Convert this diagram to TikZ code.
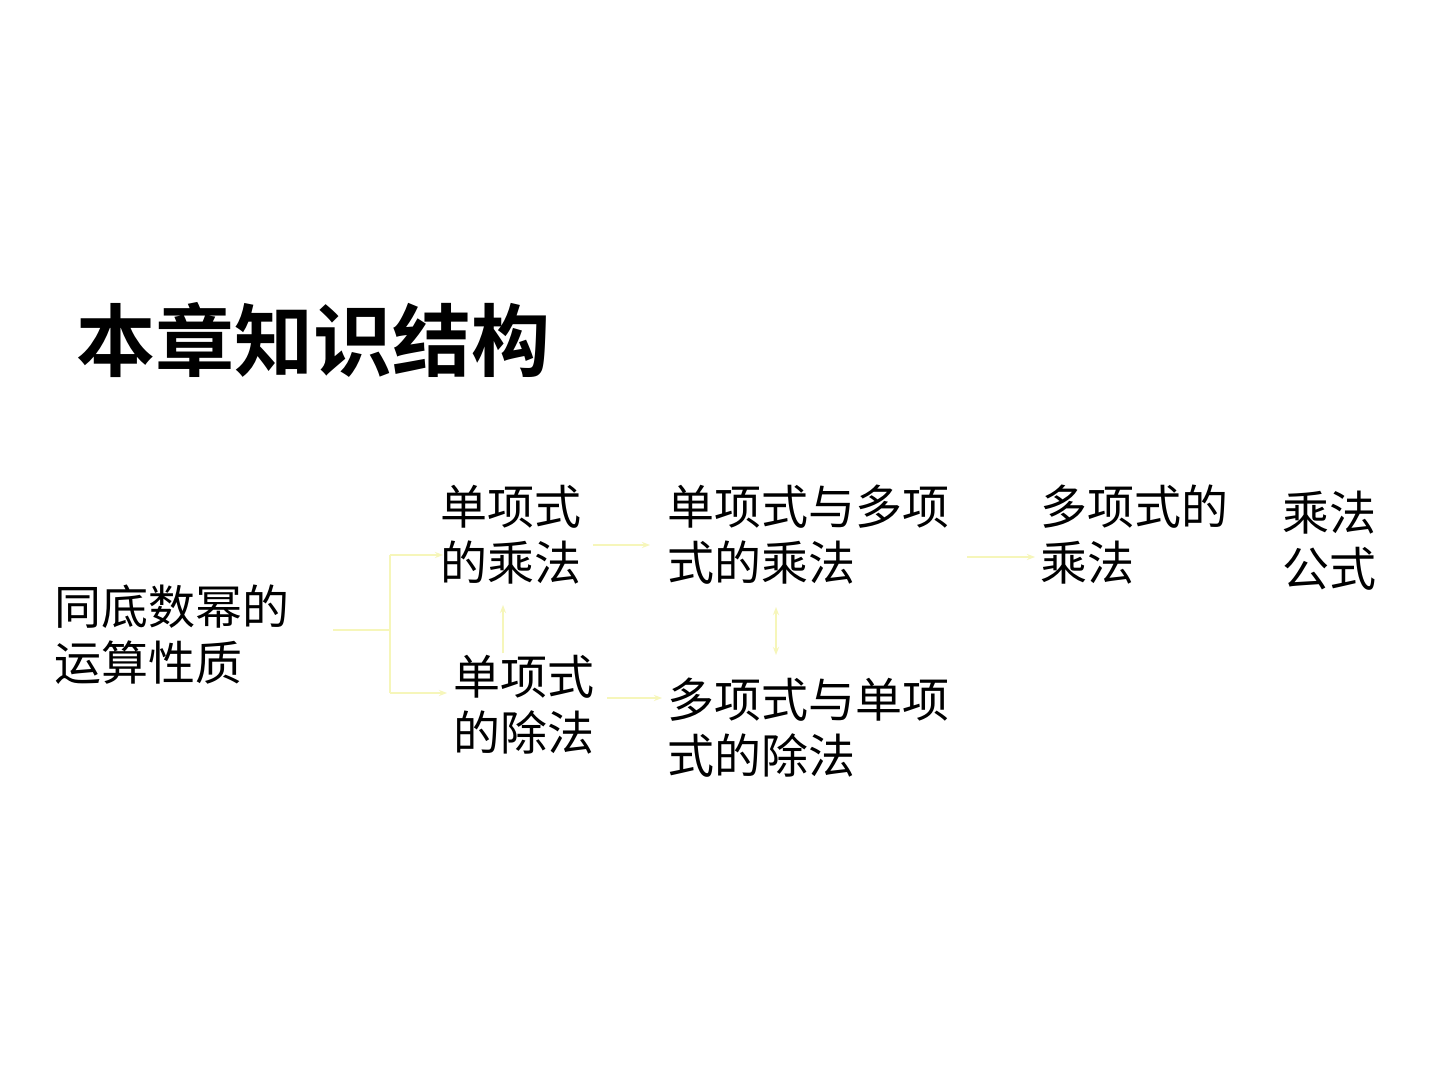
\documentclass[tikz,border=0pt]{standalone}
\usepackage{fontspec}
\newfontfamily\cjk{Noto Sans CJK SC}
\newfontfamily\cjkb{Noto Sans CJK SC Bold}
\usetikzlibrary{arrows.meta}
\definecolor{lineyellow}{RGB}{246,246,186}
\tikzset{
  lbl/.style={anchor=west,inner sep=0pt,align=left,font=\cjk\fontsize{23.5}{28}\selectfont},
  conn/.style={draw=lineyellow,line width=0.9pt},
  arr/.style={conn,-{Stealth[length=4pt,width=3pt]}}
}
\begin{document}
\begin{tikzpicture}[x=0.5pt,y=-0.5pt]
\useasboundingbox[fill=white] (0,0) rectangle (1440,1080);
\node[anchor=west,inner sep=0pt,font=\cjkb\fontsize{39.5}{44}\selectfont] (title) at (76,340) {本章知识结构};
\node[lbl] (tdm) at (54,635) {同底数幂的\\运算性质};
\node[lbl] (dcf) at (440,535) {单项式\\的乘法};
\node[lbl] (dcu) at (453,705) {单项式\\的除法};
\node[lbl] (ddc) at (667,535) {单项式与多项\\式的乘法};
\node[lbl] (ddu) at (667,728) {多项式与单项\\式的除法};
\node[lbl] (ddf) at (1040,535) {多项式的\\乘法};
\node[lbl] (cfg) at (1282,541) {乘法\\公式};
% connector coordinates
\coordinate (a0) at (333,630);
\coordinate (a1) at (390,630);
\coordinate (a2) at (390,555);
\coordinate (a3) at (390,693);
\coordinate (a4) at (443,555);
\coordinate (a5) at (447,693);
\coordinate (b0) at (593,545);
\coordinate (b1) at (650,545);
\coordinate (c0) at (503,653);
\coordinate (c1) at (503,605);
\coordinate (d0) at (607,698);
\coordinate (d1) at (662,698);
\coordinate (e0) at (776,655);
\coordinate (e1) at (776,607);
\coordinate (f0) at (967,557);
\coordinate (f1) at (1035,557);
\draw[conn] (a0) -- (a1);
\draw[conn] (a2) -- (a3);
\draw[arr] (a2) -- (a4);
\draw[arr] (a3) -- (a5);
\draw[arr] (b0) -- (b1);
\draw[arr] (c0) -- (c1);
\draw[arr] (d0) -- (d1);
\draw[conn,{Stealth[length=4pt,width=3pt]}-{Stealth[length=4pt,width=3pt]}] (e0) -- (e1);
\draw[arr] (f0) -- (f1);
\end{tikzpicture}
\end{document}
